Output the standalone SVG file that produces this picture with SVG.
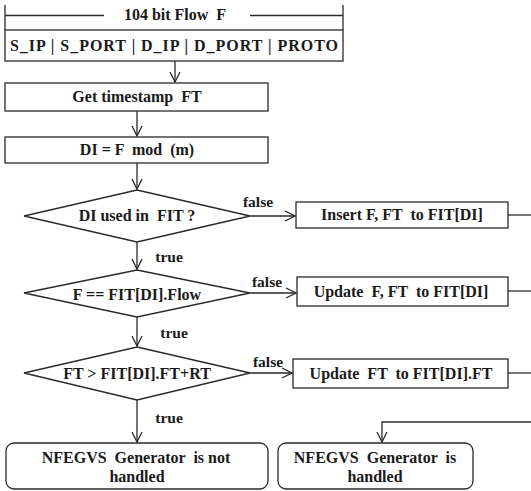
<svg xmlns="http://www.w3.org/2000/svg" width="531" height="491" viewBox="0 0 531 491" xml:space="preserve">
  <style>
    .shape { fill: #ffffff; stroke: #2a2a2a; stroke-width: 1.3; }
    .line { fill: none; stroke: #2a2a2a; stroke-width: 1.3; }
    .arrow { fill: none; stroke: #2a2a2a; stroke-width: 1.3; marker-end: url(#chevron); }
    text { font-family: "Liberation Serif", "Times New Roman", serif; font-weight: bold; fill: #1a1a1a; text-anchor: middle; white-space: pre; }
    .main { font-size: 16px; }
    .label { font-size: 15.5px; }
  </style>
  <defs>
    <marker id="chevron" viewBox="0 0 12 12" refX="11" refY="6" markerWidth="12" markerHeight="12" markerUnits="userSpaceOnUse" orient="auto">
      <path d="M 1 1 L 11 6 L 1 11" fill="none" stroke="#2a2a2a" stroke-width="1.3"/>
    </marker>
  </defs>

  <rect width="531" height="491" fill="#ffffff"/>

  <!-- 104 bit flow header -->
  <g id="flow">
    <rect class="shape" x="5" y="30" width="338" height="31"/>
    <line class="line" x1="5" y1="5" x2="5" y2="30"/>
    <line class="line" x1="343" y1="5" x2="343" y2="30"/>
    <line class="line" x1="5" y1="15.5" x2="104" y2="15.5"/>
    <line class="line" x1="250" y1="15.5" x2="343" y2="15.5"/>
    <text class="main" x="175" y="20">104 bit Flow  F</text>
    <text class="main" x="174" y="51" textLength="328" lengthAdjust="spacing">S_IP | S_PORT | D_IP | D_PORT | PROTO</text>
  </g>

  <g id="timestamp">
    <rect class="shape" x="5" y="83" width="263" height="28"/>
    <text class="main" x="137" y="102">Get timestamp  FT</text>
  </g>

  <g id="index">
    <rect class="shape" x="5" y="137" width="263" height="26"/>
    <text class="main" x="137" y="155">DI = F  mod  (m)</text>
  </g>

  <g id="used">
    <polygon class="shape" points="137,190 250,216 137,242 24,216"/>
    <text class="main" x="137" y="221">DI used in  FIT ?</text>
  </g>

  <g id="insert">
    <rect class="shape" x="296" y="202" width="212" height="26"/>
    <text class="main" x="402" y="220">Insert F, FT  to FIT[DI]</text>
  </g>

  <g id="same">
    <polygon class="shape" points="137,270 250,293 137,317 24,293"/>
    <text class="main" x="137" y="300">F == FIT[DI].Flow</text>
  </g>

  <g id="update-flow">
    <rect class="shape" x="297" y="277" width="211" height="29"/>
    <text class="main" x="401" y="297">Update  F, FT  to FIT[DI]</text>
  </g>

  <g id="expired">
    <polygon class="shape" points="137,347 250,373 137,400 24,373"/>
    <text class="main" x="137" y="379">FT &gt; FIT[DI].FT+RT</text>
  </g>

  <g id="update-time">
    <rect class="shape" x="293" y="359" width="215" height="29"/>
    <text class="main" x="401" y="379">Update  FT  to FIT[DI].FT</text>
  </g>

  <g id="not-handled">
    <rect class="shape" x="6" y="443" width="262" height="46" rx="8" ry="8"/>
    <text class="main" x="136" y="463">NFEGVS  Generator  is not</text>
    <text class="main" x="137" y="482">handled</text>
  </g>

  <g id="handled">
    <rect class="shape" x="278" y="443" width="195" height="46" rx="8" ry="8"/>
    <text class="main" x="375" y="463">NFEGVS  Generator  is</text>
    <text class="main" x="375" y="482">handled</text>
  </g>

  <!-- connectors -->
  <g id="connectors">
    <line class="arrow" x1="175" y1="61" x2="175" y2="82"/>
    <line class="arrow" x1="137" y1="111" x2="137" y2="136"/>
    <line class="arrow" x1="137" y1="163" x2="137" y2="189"/>
    <line class="arrow" x1="137" y1="242" x2="137" y2="269"/>
    <line class="arrow" x1="137" y1="317" x2="137" y2="346"/>
    <line class="arrow" x1="137" y1="400" x2="137" y2="442"/>
    <line class="arrow" x1="250" y1="216" x2="295" y2="216"/>
    <line class="arrow" x1="250" y1="293" x2="296" y2="293"/>
    <line class="arrow" x1="250" y1="373" x2="292" y2="373"/>
    <line class="line" x1="508" y1="215" x2="531" y2="215"/>
    <line class="line" x1="508" y1="291" x2="531" y2="291"/>
    <line class="line" x1="508" y1="373" x2="531" y2="373"/>
    <path class="arrow" d="M 531 422 L 382 422 L 382 442"/>

    <text class="label" x="258" y="207">false</text>
    <text class="label" x="267" y="287">false</text>
    <text class="label" x="268" y="367">false</text>
    <text class="label" x="169" y="262">true</text>
    <text class="label" x="174" y="338">true</text>
    <text class="label" x="169" y="423">true</text>
  </g>
</svg>
